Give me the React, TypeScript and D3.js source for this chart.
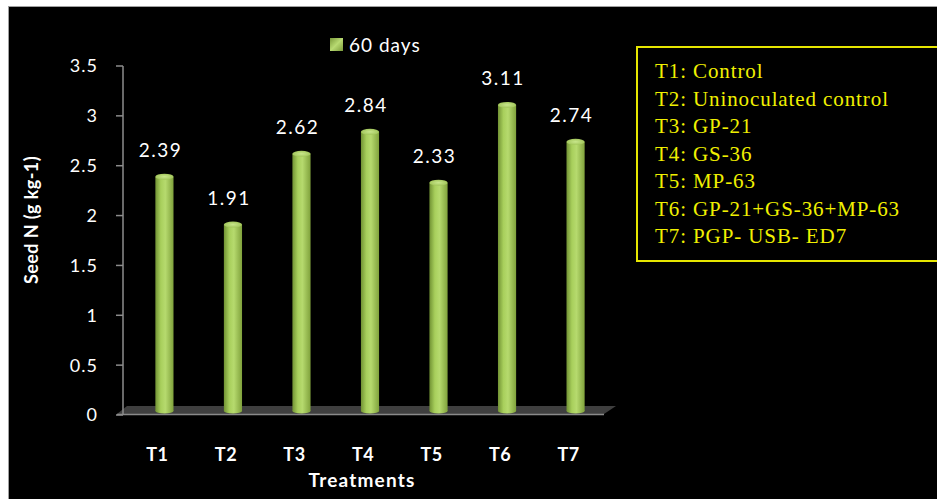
import React from "react";
import * as d3 from "d3";

const categories = ["T1", "T2", "T3", "T4", "T5", "T6", "T7"];
const values = [2.39, 1.91, 2.62, 2.84, 2.33, 3.11, 2.74];
const yTicks = [0, 0.5, 1, 1.5, 2, 2.5, 3, 3.5];
const seriesName = "60 days";
const legendLines = [
  "T1: Control",
  "T2: Uninoculated control",
  "T3: GP-21",
  "T4: GS-36",
  "T5: MP-63",
  "T6: GP-21+GS-36+MP-63",
  "T7: PGP- USB- ED7",
];

const W = 937;
const H = 499;
const font = "Lato, 'Open Sans', sans-serif";

export default function App() {
  const y = d3.scaleLinear().domain([0, 3.5]).range([415, 66]);
  const x = d3.scaleBand().domain(categories).range([130, 610]).paddingInner(0.735).paddingOuter(0.37);
  const bw = x.bandwidth();
  const floorTop = 406;
  const floorBot = 414;
  return (
    <svg width={W} height={H} style={{ position: "absolute", left: 0, top: 0 }}>
      <defs>
        <linearGradient id="cyl" x1="0" x2="1" y1="0" y2="0">
          <stop offset="0" stopColor="#729334" />
          <stop offset="0.3" stopColor="#a8cf5c" />
          <stop offset="0.55" stopColor="#b6da6e" />
          <stop offset="1" stopColor="#80a23c" />
        </linearGradient>
        <radialGradient id="cap" cx="0.5" cy="0.5" r="0.6">
          <stop offset="0" stopColor="#c9e78c" />
          <stop offset="1" stopColor="#9bc052" />
        </radialGradient>
        <linearGradient id="legsq" x1="0" x2="1" y1="0" y2="1">
          <stop offset="0" stopColor="#7a9a3a" />
          <stop offset="0.5" stopColor="#b8da72" />
          <stop offset="1" stopColor="#7a9a3a" />
        </linearGradient>
      </defs>
      <rect x={0} y={0} width={W} height={H} fill="#ffffff" />
      <rect x={8} y={6} width={W - 8} height={H - 6} fill="#a0a0a0" />
      <rect x={9} y={7} width={W - 9} height={H - 7} fill="#000000" />

      {/* floor */}
      <polygon
        points={`127,${floorTop} 616,${floorTop} 604,${floorBot} 117,${floorBot}`}
        fill="#3f3f3f"
      />
      <line x1={117} x2={604} y1={floorBot + 0.5} y2={floorBot + 0.5} stroke="#8a8a8a" strokeWidth={1.5} />

      {/* y axis */}
      <line x1={123} x2={123} y1={y(3.5)} y2={y(0)} stroke="#8c8c8c" strokeWidth={1.5} />
      {yTicks.map((t) => (
        <g key={t}>
          <line x1={116} x2={123} y1={y(t)} y2={y(t)} stroke="#8c8c8c" strokeWidth={1.5} />
          <text x={98} y={y(t)} dy="0.36em" textAnchor="end" fill="#ffffff" fontFamily={font} fontSize={18} letterSpacing={1}>
            {t}
          </text>
        </g>
      ))}

      {/* bars */}
      {values.map((v, i) => {
        const cx = (x(categories[i]) as number) + bw / 2;
        const top = y(v);
        const bot = 411;
        return (
          <g key={i}>
            <rect x={cx - bw / 2} y={top} width={bw} height={bot - top} fill="url(#cyl)" />
            <ellipse cx={cx} cy={bot} rx={bw / 2} ry={2.5} fill="url(#cyl)" />
            <ellipse cx={cx} cy={top} rx={bw / 2} ry={3} fill="url(#cap)" />
            <text x={cx - 4} y={top - 20} textAnchor="middle" fill="#ffffff" fontFamily={font} fontSize={19} letterSpacing={1.5}>
              {v.toFixed(2)}
            </text>
            <text x={cx - 7} y={461} textAnchor="middle" fill="#ffffff" fontFamily={font} fontSize={18} fontWeight="bold" letterSpacing={0.5}>
              {categories[i]}
            </text>
          </g>
        );
      })}

      {/* axis titles */}
      <text x={362} y={487} textAnchor="middle" fill="#ffffff" fontFamily={font} fontSize={19} fontWeight="bold" letterSpacing={1.2}>
        Treatments
      </text>
      <text
        transform={`translate(38,${220}) rotate(-90)`}
        textAnchor="middle"
        fill="#ffffff"
        fontFamily={font}
        fontSize={18}
        fontWeight="bold"
        letterSpacing={0.4}
      >
        Seed N (g kg-1)
      </text>

      {/* series legend */}
      <rect x={330} y={38} width={13} height={13} fill="url(#legsq)" />
      <text x={349} y={52} fill="#ffffff" fontFamily={font} fontSize={19} letterSpacing={1}>
        {seriesName}
      </text>

      {/* treatment legend */}
      <rect x={637} y={47} width={310} height={214} fill="none" stroke="#e6e600" strokeWidth={2} />
      {legendLines.map((l, i) => (
        <text
          key={i}
          x={655}
          y={78 + i * 27.5}
          fill="#f0f000"
          fontFamily="'Liberation Serif', 'DejaVu Serif', serif"
          fontSize={21}
          letterSpacing={0.9}
        >
          {l}
        </text>
      ))}
    </svg>
  );
}
